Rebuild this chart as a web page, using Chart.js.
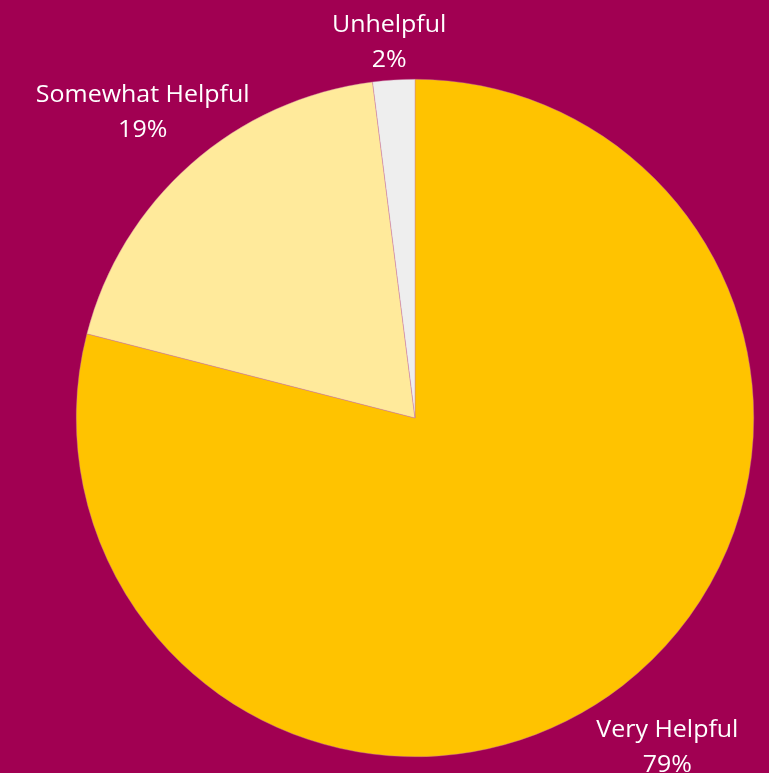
<!DOCTYPE html>
<html>
<head>
<meta charset="utf-8">
<script src="https://cdn.jsdelivr.net/npm/chart.js@4"></script>
<style>
  html, body { margin: 0; padding: 0; background: #A10052; overflow: hidden; }
  #wrap { width: 769px; height: 773px; position: relative; }
</style>
</head>
<body>
<div id="wrap"><canvas id="c" width="769" height="773"></canvas></div>
<script>
const categories = ["Very Helpful", "Somewhat Helpful", "Unhelpful"];
const values = [79, 19, 2];
const sliceColors = ["#FFC300", "#FFEA9B", "#EEEEEE"];

const labelPlugin = {
  id: 'outerLabels',
  afterDatasetsDraw(chart) {
    const ctx = chart.ctx;
    const meta = chart.getDatasetMeta(0);
    const data = chart.data.datasets[0].data;
    const total = data.reduce((a, b) => a + b, 0);
    const lh = 35, fs = 24;
    ctx.save();
    ctx.fillStyle = '#FFFFFF';
    ctx.font = '400 ' + fs + 'px "Open Sans", Lato, sans-serif';
    ctx.textAlign = 'center';
    ctx.textBaseline = 'middle';
    meta.data.forEach((arc, i) => {
      const p = arc.getProps(['x', 'y', 'startAngle', 'endAngle', 'outerRadius'], true);
      const mid = (p.startAngle + p.endAngle) / 2;
      const r = p.outerRadius + 73;
      const cx = p.x + Math.cos(mid) * r;
      let cy = p.y + Math.sin(mid) * r + 4;
      const lines = [chart.data.labels[i], Math.round(data[i] / total * 100) + '%'];
      let top = cy - lh / 2;
      const minTop = 25;
      if (top < minTop) { top = minTop; }
      lines.forEach((t, k) => {
        ctx.save();
        ctx.translate(cx, top + k * lh);
        ctx.scale(1.04, 1);
        ctx.fillText(t, 0, 0);
        ctx.restore();
      });
    });
    ctx.restore();
  }
};

new Chart(document.getElementById('c'), {
  type: 'pie',
  data: {
    labels: categories,
    datasets: [{
      data: values,
      backgroundColor: sliceColors,
      borderColor: 'rgba(200,120,160,0.8)',
      borderWidth: 0.5
    }]
  },
  options: {
    responsive: false,
    animation: false,
    layout: { padding: { left: 76, right: 15, top: 79, bottom: 16 } },
    plugins: { legend: { display: false }, tooltip: { enabled: false } }
  },
  plugins: [labelPlugin]
});
</script>
</body>
</html>
